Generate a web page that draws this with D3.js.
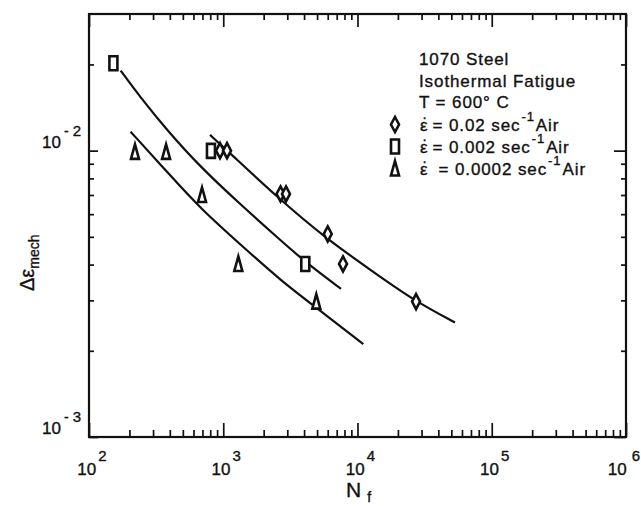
<!DOCTYPE html>
<html>
<head>
<meta charset="utf-8">
<script src="https://cdn.jsdelivr.net/npm/d3@7/dist/d3.min.js"></script>
<style>
  body { margin: 0; background: #fff; }
  svg { font-family: "Liberation Sans", Arial, Helvetica, sans-serif; }
  text { stroke: #111; stroke-width: 0.35; }
</style>
</head>
<body>
<div id="chart"></div>
<script>
var width = 641, height = 506;

// 0.02 /s strain rate (diamonds)
var fastN      = [946, 1067, 2670, 2934, 6000, 7800, 27300];
var fastStrain = [0.0100, 0.0100, 0.00706, 0.00706, 0.00512, 0.00402, 0.00297];
// 0.002 /s (squares)
var midN       = [152, 810, 4085];
var midStrain  = [0.0202, 0.00998, 0.00402];
// 0.0002 /s (triangles)
var slowN      = [220, 375, 695, 1295, 4933];
var slowStrain = [0.0099, 0.0099, 0.0070, 0.00402, 0.00297];

// fitted curves
var fastFitN      = [797, 1123, 2502, 5564, 14710, 26040, 53230];
var fastFitStrain = [0.01135, 0.00979, 0.00691, 0.00501, 0.00363, 0.00301, 0.00251];
var midFitN       = [172, 240, 375, 671, 1333, 2647, 4063, 7536];
var midFitStrain  = [0.01904, 0.0154, 0.0119, 0.00879, 0.00651, 0.00488, 0.00409, 0.00329];
var slowFitN      = [204, 401, 671, 1582, 2647, 4825, 11050];
var slowFitStrain = [0.01165, 0.00822, 0.00629, 0.00439, 0.00354, 0.00285, 0.00211];

var xMajor = [1e2, 1e3, 1e4, 1e5, 1e6];
var xExp = ['2', '3', '4', '5', '6'];
var yMajor = [1e-3, 1e-2];
var yExp = ['3', '2'];

var legendTitle = ['1070  Steel', 'Isothermal Fatigue', 'T = 600\u00b0 C'];
var legendRates = ['0.02', '0.002', '0.0002'];

var svg = d3.select('#chart')
  .append('svg')
    .attr('width', width)
    .attr('height', height);

var x = d3.scaleLog().domain([1e2, 1e6]).range([89, 626]);
var y = d3.scaleLog().domain([1e-3, 3e-2]).range([437, 14]);

var x0 = x.range()[0], x1 = x.range()[1];
var y0 = y.range()[0], y1 = y.range()[1];

////////////////////
// ticks + frame  //
////////////////////

var xMinor = x.ticks().filter(function(d){ return xMajor.indexOf(d) < 0; });
var yMinor = y.ticks().filter(function(d){ return yMajor.indexOf(d) < 0 && d < 3e-2; });

var tickAxis = function(axis, vals, size, tx, ty){
  var g = svg.append('g')
      .attr('transform', 'translate(' + tx + ',' + ty + ')')
      .call(axis.tickValues(vals).tickSize(size).tickFormat(''));
  g.select('.domain').remove();
  g.selectAll('line').attr('stroke', '#111').attr('stroke-width', 1.7);
};

tickAxis(d3.axisBottom(x), xMinor, -7, 0, y0);
tickAxis(d3.axisBottom(x), xMajor, -14, 0, y0);
tickAxis(d3.axisTop(x), xMinor, -6, 0, y1);
tickAxis(d3.axisTop(x), xMajor, -13, 0, y1);
tickAxis(d3.axisLeft(y), yMinor, -5, x0, 0);
tickAxis(d3.axisLeft(y), yMajor, -9, x0, 0);
tickAxis(d3.axisRight(y), yMinor, -5, x1, 0);
tickAxis(d3.axisRight(y), yMajor, -12, x1, 0);

svg.append('rect')
    .attr('x', x0).attr('y', y1)
    .attr('width', x1 - x0).attr('height', y0 - y1)
    .attr('fill', 'none')
    .attr('stroke', '#111')
    .attr('stroke-width', 2.2);

// tick labels
var xl = svg.append('g').selectAll('text')
    .data(xMajor)
  .enter().append('text')
    .attr('x', function(d, i){ return i === xMajor.length - 1 ? width - 1 : x(d) + 3; })
    .attr('y', 475)
    .attr('text-anchor', function(d, i){ return i === xMajor.length - 1 ? 'end' : 'middle'; })
    .attr('font-size', 17)
    .attr('fill', '#111');
xl.append('tspan').text('10');
xl.append('tspan')
    .attr('dy', -14).attr('dx', function(d, i){ return i === xMajor.length - 1 ? 5 : 2; })
    .attr('font-size', 15)
    .text(function(d, i){ return xExp[i]; });

var yl = svg.append('g').selectAll('text')
    .data(yMajor)
  .enter().append('text')
    .attr('x', 81)
    .attr('y', function(d){ return y(d) - 3; })
    .attr('text-anchor', 'end')
    .attr('font-size', 17)
    .attr('fill', '#111');
yl.append('tspan').text('10');
yl.append('tspan')
    .attr('dy', -12).attr('dx', 3)
    .attr('font-size', 14)
    .text('-');
yl.append('tspan')
    .attr('dx', 4)
    .attr('font-size', 15)
    .text(function(d, i){ return yExp[i]; });

// axis titles
var xt = svg.append('text')
    .attr('x', 346)
    .attr('y', 497)
    .attr('font-size', 21)
    .attr('fill', '#111');
xt.append('tspan').text('N');
xt.append('tspan').attr('dx', 6).attr('dy', 5).attr('font-size', 14).text('f');

var yt = svg.append('text')
    .attr('transform', 'translate(34,291) rotate(-90)')
    .attr('font-size', 20)
    .attr('fill', '#111');
yt.append('tspan').text('\u0394\u03b5');
yt.append('tspan').attr('dy', 5).attr('font-size', 14).text('mech');

////////////////////
// curves         //
////////////////////

var line = d3.line()
    .x(function(d){ return x(d[0]); })
    .y(function(d){ return y(d[1]); })
    .curve(d3.curveBasis);

var fits = [
  d3.zip(fastFitN, fastFitStrain),
  d3.zip(midFitN, midFitStrain),
  d3.zip(slowFitN, slowFitStrain)
];

svg.append('g').selectAll('path')
    .data(fits)
  .enter().append('path')
    .attr('d', line)
    .attr('fill', 'none')
    .attr('stroke', '#111')
    .attr('stroke-width', 2.2);

////////////////////
// markers        //
////////////////////

var diamond = function(cx, cy){
  return 'M' + cx + ',' + (cy - 7.5) + 'L' + (cx + 4) + ',' + cy +
    'L' + cx + ',' + (cy + 7.5) + 'L' + (cx - 4) + ',' + cy + 'Z';
};
var square = function(cx, cy){
  return 'M' + (cx - 4) + ',' + (cy - 7) + 'h8v14h-8Z';
};
var triangle = function(cx, cy){
  return 'M' + cx + ',' + (cy - 7.5) + 'L' + (cx + 4) + ',' + (cy + 7) +
    'L' + (cx - 4) + ',' + (cy + 7) + 'Z';
};

var series = [
  {shape: diamond, pts: d3.zip(fastN, fastStrain)},
  {shape: square, pts: d3.zip(midN, midStrain)},
  {shape: triangle, pts: d3.zip(slowN, slowStrain)}
];

series.forEach(function(s){
  svg.append('g').selectAll('path')
      .data(s.pts)
    .enter().append('path')
      .attr('d', function(d){ return s.shape(x(d[0]), y(d[1])); })
      .attr('fill', '#fff')
      .attr('stroke', '#111')
      .attr('stroke-width', 2.6)
      .attr('stroke-linejoin', 'miter');
});

////////////////////
// legend         //
////////////////////

svg.append('g').selectAll('text')
    .data(legendTitle)
  .enter().append('text')
    .attr('x', 419)
    .attr('y', function(d, i){ return 65 + i * 21.7; })
    .attr('font-size', 17)
    .attr('letter-spacing', 0.9)
    .attr('fill', '#111')
    .text(function(d){ return d; });

var shapes = [diamond, square, triangle];
legendRates.forEach(function(r, i){
  var by = 131 + i * 22;
  svg.append('path')
      .attr('d', shapes[i](395, by - 6.5))
      .attr('fill', '#fff')
      .attr('stroke', '#111')
      .attr('stroke-width', 2.6);
  // dot over epsilon (strain rate)
  svg.append('text')
      .attr('x', 424.5)
      .attr('y', by - 12)
      .attr('text-anchor', 'middle')
      .attr('font-size', 15)
      .attr('fill', '#111')
      .text('.');
  var t = svg.append('text')
      .attr('x', 420)
      .attr('y', by)
      .attr('font-size', 17)
      .attr('letter-spacing', 0.9)
      .attr('fill', '#111');
  t.append('tspan').text('\u03b5');
  t.append('tspan').attr('dx', i === 2 ? 10 : 4).text('= ' + r + ' sec');
  t.append('tspan').attr('dy', -10).attr('dx', 1).attr('font-size', 13).text('-1');
  t.append('tspan').attr('dy', 10).attr('dx', 1).text('Air');
});
</script>
</body>
</html>
